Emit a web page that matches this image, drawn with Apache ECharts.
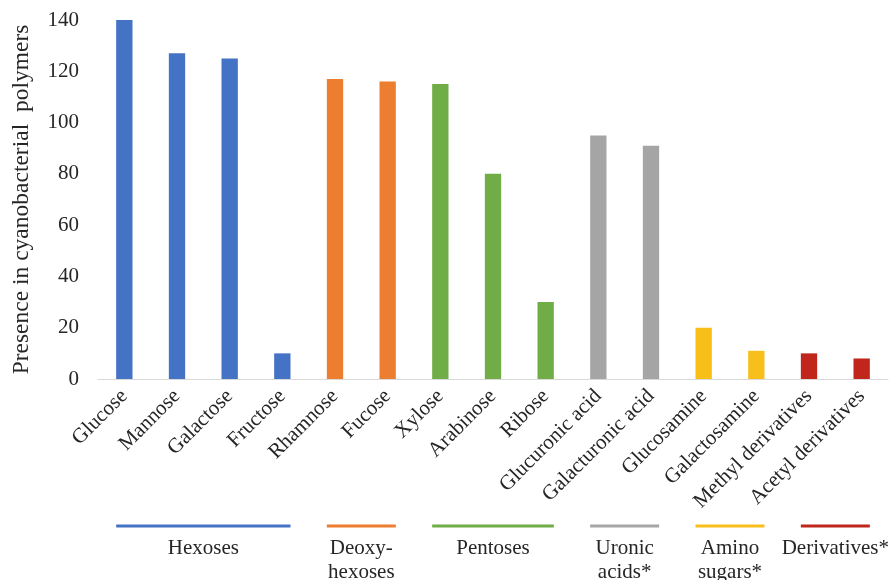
<!DOCTYPE html>
<html>
<head>
<meta charset="utf-8">
<script src="https://cdn.jsdelivr.net/npm/echarts@6/dist/echarts.min.js"></script>
<style>
  html, body { margin: 0; padding: 0; background: #fff; }
  #chart { width: 890px; height: 580px; }
</style>
</head>
<body>
<div id="chart"></div>
<script>
// sugars and how often they show up
const categories = ['Glucose', 'Mannose', 'Galactose', 'Fructose', 'Rhamnose', 'Fucose', 'Xylose', 'Arabinose',
  'Ribose', 'Glucuronic acid', 'Galacturonic acid', 'Glucosamine', 'Galactosamine', 'Methyl derivatives', 'Acetyl derivatives']
const values = [140, 127, 125, 10, 117, 116, 115, 80, 30, 95, 91, 20, 11, 10, 8]
// group index of each category
const groupOf = [0, 0, 0, 0, 1, 1, 2, 2, 2, 3, 3, 4, 4, 5, 5]
const groupNames = ['Hexoses', 'Deoxy-\nhexoses', 'Pentoses', 'Uronic\nacids*', 'Amino\nsugars*', 'Derivatives*']
const groupRanges = [[0, 3], [4, 5], [6, 8], [9, 10], [11, 12], [13, 14]]
const groupColors = ['#4472C4', '#ED7D31', '#70AD47', '#A5A5A5', '#F8BE1A', '#C0261B']

const yTicks = [0, 20, 40, 60, 80, 100, 120, 140]
const barFrac = 0.31
const font = 'Liberation Serif, Times New Roman, serif'

const chart = echarts.init(document.getElementById('chart'))

const option = {
  animation: false,
  grid: { left: 98, right: 2, top: 20, bottom: 201 },
  xAxis: {
    type: 'category',
    data: categories,
    axisTick: { show: false },
    axisLine: { lineStyle: { color: '#D9D9D9', width: 1 } },
    axisLabel: {
      rotate: 45,
      interval: 0,
      margin: 14,
      color: '#262626',
      fontFamily: font,
      fontSize: 21
    }
  },
  yAxis: {
    type: 'value',
    min: yTicks[0],
    max: yTicks[yTicks.length - 1],
    interval: 20,
    name: 'Presence in cyanobacterial  polymers',
    nameLocation: 'middle',
    nameGap: 64,
    nameTextStyle: { color: '#262626', fontFamily: font, fontSize: 23.5 },
    splitLine: { show: false },
    axisLine: { show: false },
    axisTick: { show: false },
    axisLabel: { margin: 19, color: '#262626', fontFamily: font, fontSize: 21 }
  },
  series: [
    {
      type: 'bar',
      barWidth: (barFrac * 100) + '%',
      data: values,
      itemStyle: {
        color: (p) => groupColors[groupOf[p.dataIndex]]
      }
    },
    {
      type: 'custom',
      coordinateSystem: 'cartesian2d',
      silent: true,
      encode: { x: [0, 1], y: 2 },
      data: groupRanges.map(r => [r[0], r[1], 0]),
      renderItem: (params, api) => {
        const p0 = api.coord([api.value(0), 0])
        const p1 = api.coord([api.value(1), 0])
        const half = api.size([1, 0])[0] * barFrac / 2
        const x0 = p0[0] - half
        const x1 = p1[0] + half
        const y = p0[1] + 147
        const color = groupColors[params.dataIndex]
        return {
          type: 'group',
          children: [
            {
              type: 'line',
              shape: { x1: x0, y1: y, x2: x1, y2: y },
              style: { stroke: color, lineWidth: 3 }
            },
            {
              type: 'text',
              x: (x0 + x1) / 2,
              y: y + 10,
              style: {
                text: groupNames[params.dataIndex],
                align: 'center',
                verticalAlign: 'top',
                fill: '#262626',
                font: '21px ' + font,
                lineHeight: 24
              }
            }
          ]
        }
      }
    }
  ]
}

chart.setOption(option)
</script>
</body>
</html>
